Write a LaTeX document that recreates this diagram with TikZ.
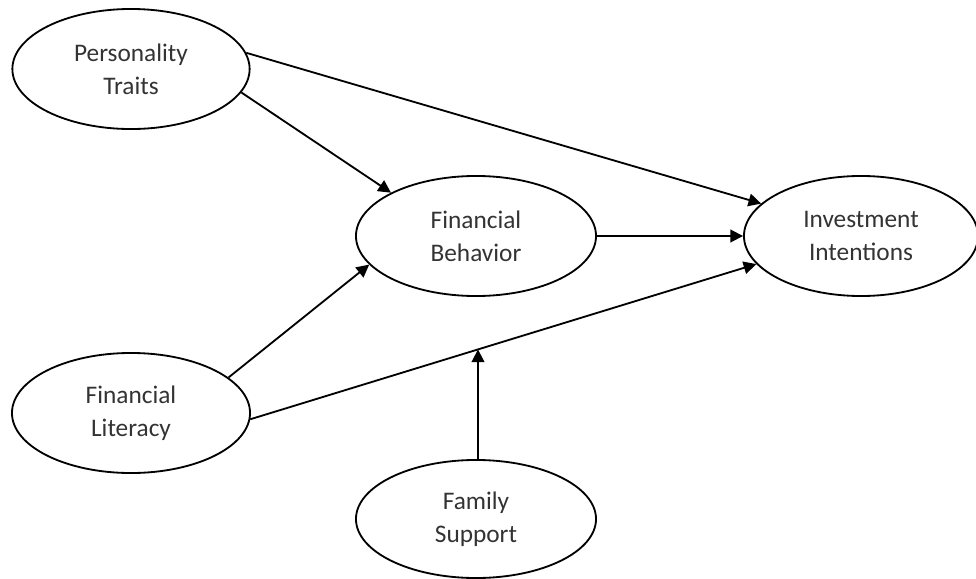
\documentclass[tikz,border=0pt]{standalone}
\usepackage{fontspec}
\setmainfont{Carlito}
\usetikzlibrary{arrows.meta, positioning, shapes.geometric}
\tikzset{
  latent/.style={draw, ellipse, line width=1.3pt, minimum width=6cm, minimum height=3cm,
    inner sep=0pt, align=center, text=black!80, font=\fontsize{18}{23.5}\selectfont},
  link/.style={->, line width=1.3pt}
}
\begin{document}
\begin{tikzpicture}[x=0.025cm, y=0.025cm, >={Triangle[length=9pt,width=9pt]}]
\useasboundingbox (0,0) rectangle (976,-579);

% --- Variabili latenti
\node[latent, minimum width=5.93cm] (pt) at (131,-69) {Personality\\Traits};
\node[latent] (fb) at (476,-236) {Financial\\Behavior};
\node[latent, minimum width=5.85cm] (ii) at (861,-236) {Investment\\Intentions};
\node[latent, minimum width=5.95cm] (fl) at (131,-413) {Financial\\Literacy};
\node[latent, minimum height=2.95cm] (fs) at (476,-519) {Family\\Support};

% --- Effetti diretti
\draw[link] (pt.-12) -- (fb.153);
\draw[link] (pt.8) -- (ii.162);
\draw[link] (fb.east) -- (ii.west);
\draw[link] (fl.20) -- (fb.-165);
\draw[link] (fl.-3) -- coordinate[pos=0.45] (mod) (ii.-165);

% --- Moderazione
\draw[link] (fs.north -| mod) -- (mod);
\end{tikzpicture}
\end{document}
